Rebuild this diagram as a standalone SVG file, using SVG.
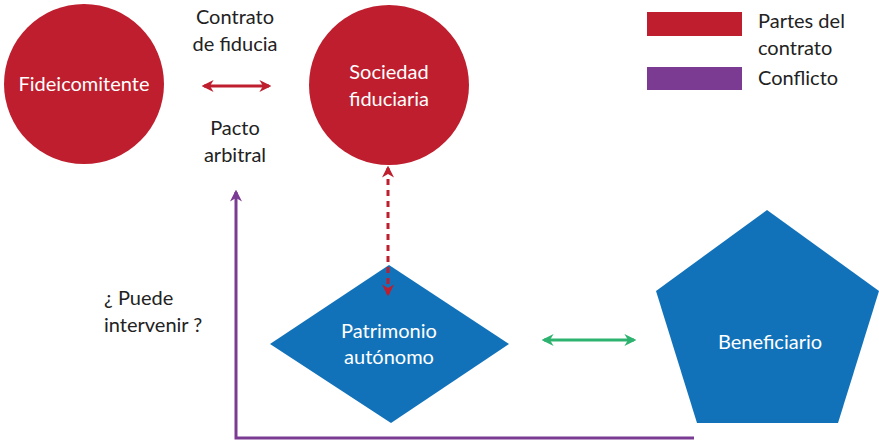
<svg xmlns="http://www.w3.org/2000/svg" width="879" height="444" viewBox="0 0 879 444">
<defs>
<style>
text{font-family:"Lato","Open Sans","Liberation Sans",sans-serif;font-size:20px}
.w{fill:#fff;text-anchor:middle}
.k{fill:#222}
.c{text-anchor:middle}
.red{fill:#BE1E2D}
.blue{fill:#1172BA}
</style>
<marker id="ar" viewBox="0 0 10 10" refX="8" refY="5" markerWidth="4" markerHeight="4" orient="auto-start-reverse" markerUnits="strokeWidth"><path d="M0,0 L10,5 L0,10 L3,5 Z" fill="#BE1E2D"/></marker>
<marker id="ag" viewBox="0 0 10 10" refX="8" refY="5" markerWidth="4" markerHeight="4" orient="auto-start-reverse" markerUnits="strokeWidth"><path d="M0,0 L10,5 L0,10 L3,5 Z" fill="#2DB36F"/></marker>
<marker id="ap" viewBox="0 0 10 10" refX="8" refY="5" markerWidth="4" markerHeight="4" orient="auto-start-reverse" markerUnits="strokeWidth"><path d="M0,0 L10,5 L0,10 L3,5 Z" fill="#7B3B93"/></marker>
</defs>
<rect width="879" height="444" fill="#fff"/>
<g id="fideicomitente">
<circle cx="84" cy="84" r="80" class="red"/>
<text x="84" y="91" class="w">Fideicomitente</text>
</g>
<g id="sociedad">
<circle cx="389" cy="85" r="80" class="red"/>
<text x="389" y="79" class="w">Sociedad</text>
<text x="389" y="106" class="w">fiduciaria</text>
</g>
<g id="patrimonio">
<polygon points="389,265 509,344 391,423 270,344" class="blue"/>
<text x="389" y="338" class="w">Patrimonio</text>
<text x="389" y="364" class="w">autónomo</text>
</g>
<g id="beneficiario">
<polygon points="767,210 879,291 838,423 697,423 656,291" class="blue"/>
<text x="770" y="349" class="w">Beneficiario</text>
</g>
<g id="connectors" fill="none">
<line x1="204" y1="86" x2="269" y2="86" stroke="#BE1E2D" stroke-width="3" marker-start="url(#ar)" marker-end="url(#ar)"/>
<line x1="388" y1="168" x2="388" y2="294" stroke="#BE1E2D" stroke-width="3" stroke-dasharray="6,5" marker-start="url(#ar)" marker-end="url(#ar)"/>
<line x1="544" y1="340" x2="634" y2="340" stroke="#2DB36F" stroke-width="3" marker-start="url(#ag)" marker-end="url(#ag)"/>
<polyline points="694,438 236,438 236,192" stroke="#7B3B93" stroke-width="3" marker-end="url(#ap)"/>
</g>
<g id="labels">
<text x="235" y="24" class="k c">Contrato</text>
<text x="235" y="51" class="k c">de fiducia</text>
<text x="235" y="135" class="k c">Pacto</text>
<text x="235" y="162" class="k c">arbitral</text>
<text x="104" y="305" class="k">¿ Puede</text>
<text x="104" y="332" class="k">intervenir ?</text>
</g>
<g id="legend">
<rect x="647" y="12" width="95" height="24" class="red"/>
<rect x="647" y="67" width="95" height="23" fill="#7B3B93"/>
<text x="758" y="28" class="k">Partes del</text>
<text x="758" y="55" class="k">contrato</text>
<text x="758" y="85" class="k">Conflicto</text>
</g>
</svg>
